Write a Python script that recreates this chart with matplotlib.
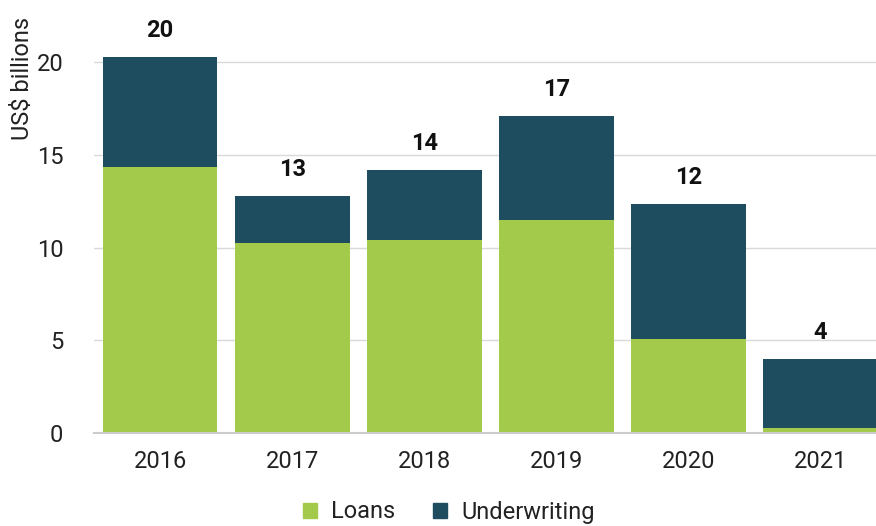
import matplotlib
matplotlib.use("Agg")
import matplotlib.pyplot as plt
from matplotlib.patches import Patch
import numpy as np

plt.rcParams['font.family'] = ['Roboto', 'DejaVu Sans']

years = ["2016", "2017", "2018", "2019", "2020", "2021"]
loans = [14.35, 10.27, 10.38, 11.5, 5.05, 0.27]
underwriting = [5.95, 2.53, 3.81, 5.6, 7.32, 3.71]

loans_color = "#A3CA4A"
uw_color = "#1F4D60"
text_color = "#222222"

fig = plt.figure(figsize=(8.76, 5.26), dpi=100)
ax = fig.add_axes([94 / 876, 93 / 526, (886.5 - 94) / 876, (433 - 25) / 526])

x = np.arange(len(years))
width = 0.87
ax.bar(x, loans, width, color=loans_color, zorder=3)
ax.bar(x, underwriting, width, bottom=loans, color=uw_color, zorder=3)

totals = np.array(loans) + np.array(underwriting)
for xi, t in zip(x, totals):
    ax.text(xi, t + 0.8, f"{t:.0f}", ha="center", va="bottom",
            fontsize=17, fontweight="bold", color="#111111")

ax.set_xlim(-0.5, 5.5)
ax.set_ylim(0, 22)
ax.set_yticks([0, 5, 10, 15, 20])
ax.set_xticks(x)
ax.set_xticklabels(years)
ax.tick_params(axis="both", length=0, labelsize=17, colors=text_color)
ax.tick_params(axis="y", pad=22)
ax.tick_params(axis="x", pad=12)
ax.grid(axis="y", color="#D9D9D9", linewidth=1, zorder=0)
for s in ["top", "right", "left"]:
    ax.spines[s].set_visible(False)
ax.spines["bottom"].set_color("#CCCCCC")
ax.spines["bottom"].set_linewidth(1.5)
ax.spines["bottom"].set_zorder(4)

fig.text(23 / 876, 1 - 78 / 526, "US$ billions", rotation=90,
         ha="center", va="center", fontsize=17, color=text_color)

handles = [Patch(color=loans_color, label="Loans"),
           Patch(color=uw_color, label="Underwriting")]
fig.legend(handles=handles, loc="center", bbox_to_anchor=(449 / 876, 1 - 512 / 526),
           ncol=2, frameon=False, fontsize=17, handlelength=0.6, handleheight=0.6,
           handletextpad=0.6, columnspacing=1.6, labelcolor=text_color,
           borderpad=0.1)

fig.savefig("out.png", dpi=100)
